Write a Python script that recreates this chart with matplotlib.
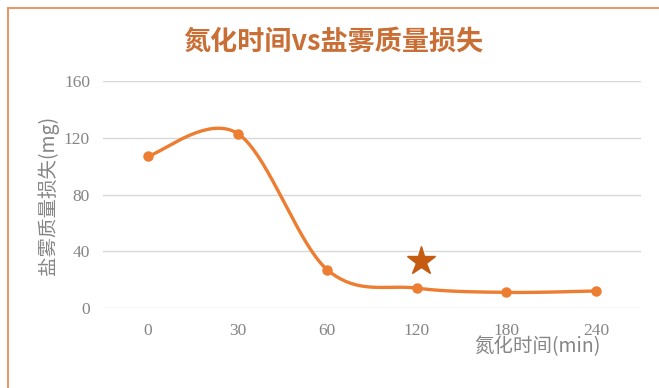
import numpy as np
import matplotlib
matplotlib.use("Agg")
import matplotlib.pyplot as plt
from matplotlib.patches import Rectangle

plt.rcParams['font.family'] = ['Noto Sans CJK SC', 'DejaVu Sans']

# nitriding time (categorical axis) vs salt-spray mass loss
times = ["0", "30", "60", "120", "180", "240"]
mass_loss = [107, 123, 27, 14, 11, 12]
best_time_index = 3.05
best_marker_value = 33

y_ticks = [0, 40, 80, 120, 160]

LINE_COLOR = "#ED7D31"
STAR_COLOR = "#C55A11"
TITLE_COLOR = "#C96F35"
TEXT_GRAY = "#858585"


def smooth_curve(xs, ys, steps=40):
    """Catmull-Rom style smoothing, like a spreadsheet's smoothed line."""
    pts = np.column_stack([xs, ys]).astype(float)
    padded = np.vstack([pts[0], pts, pts[-1]])
    out = []
    for i in range(1, len(padded) - 2):
        p0, p1, p2, p3 = padded[i - 1], padded[i], padded[i + 1], padded[i + 2]
        c1 = p1 + (p2 - p0) / 6.0
        c2 = p2 - (p3 - p1) / 6.0
        t = np.linspace(0, 1, steps)[:, None]
        seg = ((1 - t) ** 3) * p1 + 3 * ((1 - t) ** 2) * t * c1 \
            + 3 * (1 - t) * t ** 2 * c2 + t ** 3 * p2
        out.append(seg if i == 1 else seg[1:])
    curve = np.vstack(out)
    return curve[:, 0], curve[:, 1]


fig = plt.figure(figsize=(6.59, 3.88), dpi=100)
ax = fig.add_axes([0.1566, 0.2062, 0.8158, 0.585])

x = np.arange(len(times))
sx, sy = smooth_curve(x, mass_loss)
ax.plot(sx, sy, color=LINE_COLOR, lw=2.4, solid_capstyle="round", zorder=3)
ax.plot(x, mass_loss, "o", color=LINE_COLOR, ms=6.5, zorder=4)
ax.plot([best_time_index], [best_marker_value], marker="*", color=STAR_COLOR,
        ms=21, ls="none", zorder=5)

ax.set_xlim(-0.5, len(times) - 0.5)
ax.set_ylim(0, 160)
ax.set_yticks(y_ticks)
ax.set_xticks(x)
ax.set_xticklabels(times)
ax.yaxis.grid(True, color="#D9D9D9", lw=1.0)
ax.set_axisbelow(True)
for spine in ax.spines.values():
    spine.set_visible(False)
ax.tick_params(length=0, colors=TEXT_GRAY, labelsize=12.5)
ax.tick_params(axis="y", pad=9.5)
ax.tick_params(axis="x", pad=11)
for lbl in ax.get_xticklabels() + ax.get_yticklabels():
    lbl.set_family("Liberation Serif")

fig.text(0.506, 0.894, "氮化时间vs盐雾质量损失", ha="center", va="center",
         fontsize=19.5, fontweight="bold", color=TITLE_COLOR)
fig.text(0.0728, 0.497, "盐雾质量损失(mg)", ha="center", va="center",
         rotation=90, fontsize=14, color=TEXT_GRAY)
fig.text(0.815, 0.106, "氮化时间(min)", ha="center", va="center",
         fontsize=14, color=TEXT_GRAY)

# chart-area frame, running off the right and bottom edges
fig.patches.append(Rectangle((8 / 659, -0.2), 1.3, 1.2 - 8 / 388,
                             transform=fig.transFigure, fill=False,
                             edgecolor="#EA9461", lw=1.4, zorder=0))

fig.savefig("out.png", dpi=100)
